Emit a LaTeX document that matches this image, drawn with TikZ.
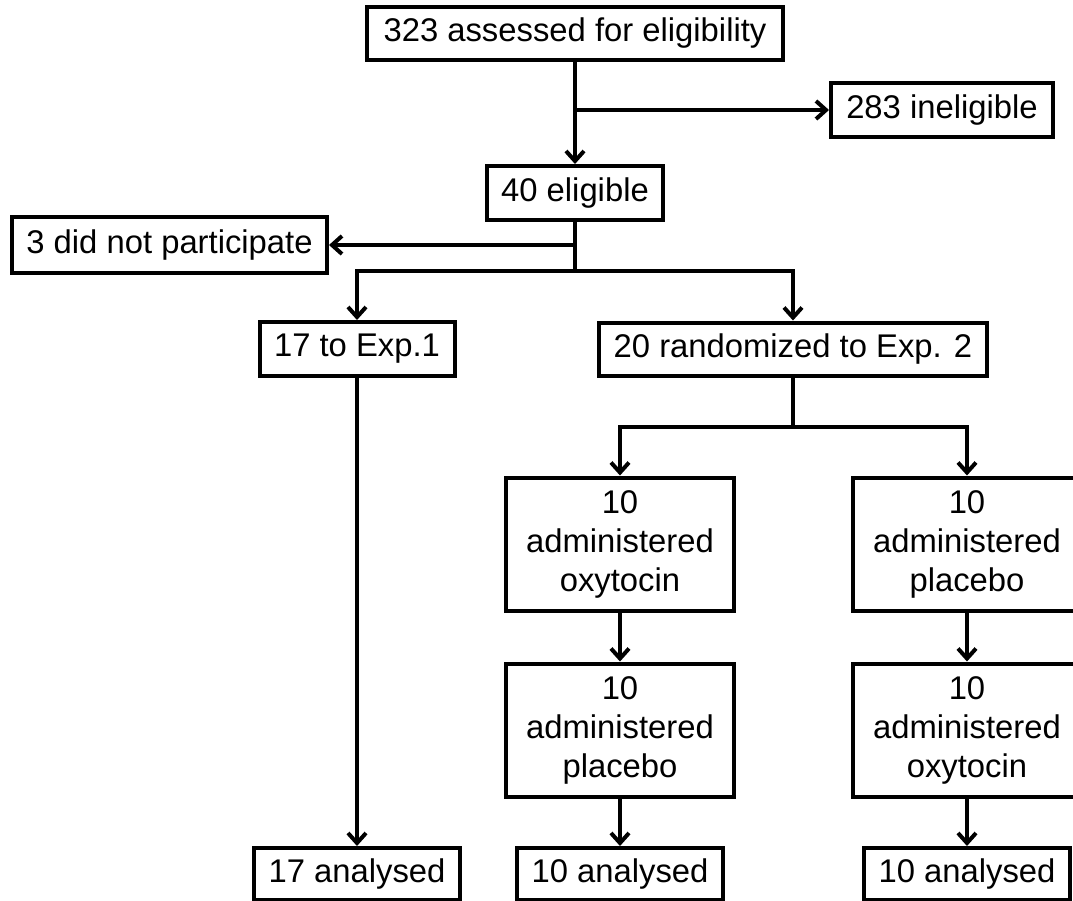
\documentclass[tikz,border=0pt]{standalone}
\usepackage{fontspec}
\setmainfont{Liberation Sans}
\usetikzlibrary{arrows.meta, positioning, calc}

\begin{document}
\begin{tikzpicture}[x=0.5pt, y=-0.5pt,
  box/.style={draw, line width=2pt, inner sep=0pt, align=center,
    font=\fontsize{16.4pt}{19.5pt}\selectfont, minimum height=27pt},
  tall/.style={box, minimum width=114pt, minimum height=66.5pt},
  arr/.style={line width=2pt, -{Straight Barb[length=5pt,width=9pt]}},
  ln/.style={line width=2pt}]
\useasboundingbox (0,0) rectangle (1073,901);

% screening
\node[box, minimum width=208pt, minimum height=26.5pt] (assess) at (575,33.5) {323 assessed for eligibility};
\node[box, minimum width=111pt] (inelig) at (942,110) {283 ineligible};
\node[box, minimum width=88pt] (elig) at (575,193) {40 eligible};
\node[box, minimum width=157.5pt, minimum height=28pt] (nopart) at (169.5,245) {3 did not participate};

% allocation
\node[box, minimum width=97.5pt] (exp1) at (357,349) {17 to Exp.1};
\node[box, minimum width=194pt, minimum height=26.5pt] (exp2) at (793,349) {20 randomized to Exp. 2};

% crossover arms
\node[tall] (oxyA) at (620,544) {10\\administered\\oxytocin};
\node[tall] (plaA) at (967,544) {10\\administered\\placebo};
\node[tall] (plaB) at (620,730) {10\\administered\\placebo};
\node[tall] (oxyB) at (967,730) {10\\administered\\oxytocin};

% analysis
\node[box, minimum width=103pt, minimum height=26pt] (ana1) at (357,874) {17 analysed};
\node[box, minimum width=103pt, minimum height=26pt] (anaA) at (620,874) {10 analysed};
\node[box, minimum width=103pt, minimum height=26pt] (anaB) at (967,874) {10 analysed};

\coordinate (split1) at (assess.south |- inelig.west);
\coordinate (split2) at (575,245);
\coordinate (split3) at (575,271);
\coordinate (split4) at (793,427);

\draw[arr] (assess) -- (elig);
\draw[arr] (split1) -- (inelig);
\draw[ln] (elig.south) -- (split3);
\draw[arr] (split2) -- (nopart);
\draw[arr] (split3) -| (exp1);
\draw[arr] (split3) -| (exp2);
\draw[ln] (exp2.south) -- (split4);
\draw[arr] (split4) -| (oxyA);
\draw[arr] (split4) -| (plaA);
\draw[arr] (oxyA) -- (plaB);
\draw[arr] (plaA) -- (oxyB);
\draw[arr] (exp1) -- (ana1);
\draw[arr] (plaB) -- (anaA);
\draw[arr] (oxyB) -- (anaB);
\end{tikzpicture}
\end{document}
